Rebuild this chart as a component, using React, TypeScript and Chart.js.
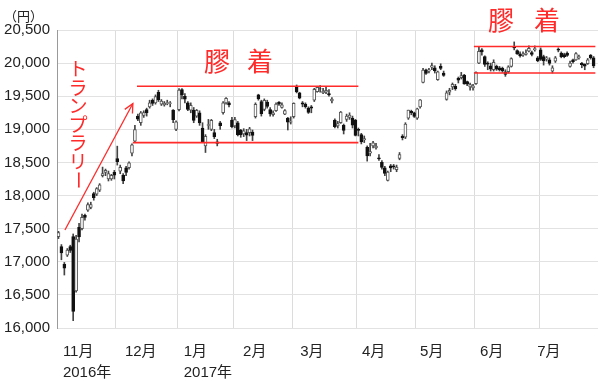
import React, { useEffect, useRef } from "react";
import { Chart, registerables } from "chart.js";

Chart.register(...registerables);

// ---- data ----
const monthLabels = ["11月", "12月", "1月", "2月", "3月", "4月", "5月", "6月", "7月"];
const yearLabels = ["2016年", "", "2017年", "", "", "", "", "", ""];
const monthTradingDays = [20, 21, 19, 20, 22, 20, 20, 22, 19];
const monthLabelPos = [1.5, 22.6, 42.6, 62.8, 82.2, 103.2, 123.0, 143.4, 162.8];
const yTicks = [16000, 16500, 17000, 17500, 18000, 18500, 19000, 19500, 20000, 20500];

const opens = [
  17380, 17230, 16960, 17100, 17230, 17380, 16560, 17520, 17500, 17700, 17780, 17820, 18030, 18020, 18080, 18300, 18350, 18250, 18250, 18350,
  18560, 18370, 18310, 18420, 18420, 18640, 18820, 19200, 19100, 19210, 19300, 19340, 19440, 19400, 19560, 19380, 19370, 19390, 19390, 19290, 19000,
  19298, 19600, 19500, 19400, 19290, 19290, 19200, 19250, 19020, 18750, 19060, 19000, 18950, 18810, 19100, 19250, 19400, 19400, 19140,
  19050, 19100, 18990, 18930, 18950, 18950, 18960, 19190, 19520, 19420, 19300, 19410, 19300, 19220, 19280, 19410, 19330, 19230, 19170, 19110,
  19190, 19640, 19550, 19400, 19380, 19320, 19340, 19440, 19570, 19610, 19550, 19560, 19540, 19430, 19140, 19050, 19100, 19060, 19150, 19180, 19170, 19140,
  19000, 18920, 18840, 18730, 18640, 18750, 18720, 18570, 18500, 18420, 18230, 18450, 18450, 18390, 18560, 18900, 18880, 19170, 19270, 19250,
  19170, 19340, 19710, 19900, 19880, 19940, 19930, 19750, 19950, 19850, 19450, 19560, 19640, 19650, 19770, 19780, 19820, 19720, 19640, 19630,
  19690, 20000, 20200, 20100, 20000, 19960, 19900, 19950, 19930, 19920, 19870, 19870, 19950, 20250, 20190, 20140, 20120, 20130, 20180, 20160, 20200, 20080,
  20200, 20100, 20060, 20050, 19880, 20030, 20210, 20150, 20130, 20150, 19950, 20050, 20050, 20080, 20000, 19980, 19990, 20120, 20080,
];
const highs = [
  17460, 17260, 16990, 17200, 17250, 17420, 17400, 17580, 17720, 17720, 17890, 17900, 18050, 18120, 18180, 18430, 18400, 18370, 18320, 18380,
  18746, 18460, 18330, 18440, 18510, 18780, 19060, 19230, 19270, 19280, 19320, 19440, 19460, 19520, 19590, 19450, 19420, 19440, 19420, 19300, 19130,
  19615, 19615, 19540, 19420, 19400, 19330, 19300, 19280, 19100, 18920, 19150, 19150, 19000, 18850, 19120, 19420, 19480, 19420, 19180,
  19180, 19120, 19000, 19010, 19000, 19030, 18990, 19400, 19530, 19440, 19460, 19440, 19330, 19280, 19400, 19420, 19400, 19300, 19180, 19190,
  19400, 19670, 19560, 19420, 19400, 19340, 19360, 19620, 19650, 19660, 19620, 19640, 19600, 19480, 19160, 19120, 19270, 19080, 19230, 19250, 19200, 19150,
  19020, 18940, 18900, 18750, 18790, 18820, 18790, 18620, 18530, 18440, 18370, 18470, 18470, 18460, 18650, 18920, 19100, 19290, 19290, 19260,
  19320, 19450, 19920, 19910, 19920, 20000, 19960, 19880, 19990, 19880, 19580, 19620, 19700, 19680, 19790, 19860, 19830, 19730, 19700, 19680,
  19870, 20240, 20220, 20110, 20020, 20000, 20050, 19970, 19950, 19940, 19900, 19960, 20080, 20320, 20200, 20170, 20170, 20200, 20260, 20180, 20260, 20100,
  20230, 20120, 20100, 20080, 19960, 20100, 20230, 20170, 20150, 20170, 20030, 20060, 20160, 20120, 20010, 19990, 20070, 20130, 20100,
];
const lows = [
  17350, 17030, 16800, 17080, 17140, 16111, 16540, 17300, 17480, 17630, 17760, 17800, 17930, 18000, 18060, 18280, 18300, 18220, 18230, 18250,
  18460, 18330, 18180, 18300, 18400, 18600, 18800, 19130, 19060, 19180, 19200, 19320, 19360, 19380, 19420, 19360, 19350, 19370, 19340, 19100, 18980,
  19277, 19460, 19400, 19280, 19250, 19100, 19180, 19060, 18800, 18650, 19000, 18980, 18860, 18750, 19000, 19230, 19380, 19340, 19020,
  19020, 18900, 18880, 18890, 18830, 18900, 18830, 19170, 19440, 19200, 19280, 19320, 19200, 19200, 19270, 19360, 19320, 19220, 18990, 19080,
  19170, 19550, 19460, 19340, 19320, 19240, 19250, 19420, 19560, 19560, 19540, 19540, 19500, 19400, 19020, 19020, 19090, 18930, 19120, 19150, 19020, 18900,
  18900, 18780, 18800, 18520, 18600, 18720, 18700, 18530, 18400, 18300, 18220, 18360, 18400, 18360, 18540, 18840, 18860, 19150, 19220, 19180,
  19150, 19320, 19700, 19830, 19850, 19900, 19850, 19740, 19900, 19800, 19440, 19520, 19600, 19590, 19700, 19760, 19680, 19660, 19590, 19590,
  19680, 19990, 20120, 19950, 19900, 19880, 19880, 19890, 19880, 19860, 19800, 19850, 19940, 20200, 20130, 20090, 20100, 20120, 20170, 20110, 20180, 20020,
  20040, 19970, 20030, 19970, 19850, 20010, 20170, 20080, 20080, 20100, 19940, 20000, 20040, 20060, 19930, 19900, 19980, 20060, 19930,
];
const closes = [
  17442, 17134, 16905, 17177, 17171, 16251, 17344, 17374, 17672, 17668, 17862, 17862, 17967, 18106, 18162, 18333, 18381, 18330, 18307, 18308,
  18513, 18426, 18220, 18350, 18496, 18765, 18996, 19155, 19251, 19253, 19250, 19401, 19391, 19494, 19444, 19427, 19396, 19403, 19401, 19145, 19114,
  19594, 19520, 19454, 19301, 19364, 19134, 19287, 19095, 18813, 18894, 19072, 19137, 18891, 18787, 19057, 19402, 19467, 19368, 19041,
  19148, 18914, 18918, 18976, 18910, 19007, 18907, 19378, 19459, 19238, 19437, 19347, 19234, 19251, 19381, 19379, 19371, 19283, 19107, 19118,
  19393, 19564, 19469, 19379, 19344, 19254, 19318, 19604, 19633, 19609, 19577, 19590, 19521, 19455, 19041, 19085, 19262, 18985, 19202, 19217, 19063, 18909,
  18983, 18810, 18861, 18597, 18664, 18797, 18747, 18552, 18426, 18335, 18355, 18418, 18432, 18430, 18620, 18875, 19079, 19289, 19251, 19196,
  19310, 19445, 19895, 19843, 19900, 19961, 19883, 19869, 19919, 19814, 19553, 19590, 19678, 19613, 19742, 19813, 19686, 19682, 19677, 19650,
  19860, 20177, 20170, 19979, 19984, 19909, 20013, 19908, 19898, 19883, 19831, 19943, 20067, 20230, 20138, 20110, 20132, 20153, 20225, 20130, 20220, 20033,
  20055, 20032, 20081, 19994, 19929, 20080, 20195, 20098, 20099, 20118, 20000, 20020, 20144, 20099, 19975, 19955, 20050, 20079, 19959,
];

// annotation levels (price) and spans (trading-day index)
const rallyArrow = { x0: 2.2, y0: 17480, x1: 25.3, y1: 19390 };
const ranges = [
  { top: 19650, bottom: 18800, topStart: 26.7, bottomStart: 25.3, end: 102.0 },
  { top: 20250, bottom: 19850, topStart: 141.3, bottomStart: 141.3, end: 182.6 },
];

const RED = "#ff2a2a";
const JP = "'Noto Sans CJK JP', sans-serif";

const annotationPlugin = {
  id: "annotations",
  afterDatasetsDraw(chart: any) {
    const { ctx } = chart;
    const xs = chart.scales.x;
    const ys = chart.scales.y;
    ctx.save();
    // arrow head
    const tx = xs.getPixelForValue(rallyArrow.x1);
    const ty = ys.getPixelForValue(rallyArrow.y1);
    const fx = xs.getPixelForValue(rallyArrow.x0);
    const fy = ys.getPixelForValue(rallyArrow.y0);
    const ang = Math.atan2(ty - fy, tx - fx);
    const len = 10;
    ctx.strokeStyle = RED;
    ctx.lineWidth = 1.3;
    ctx.beginPath();
    ctx.moveTo(tx - len * Math.cos(ang - 0.45), ty - len * Math.sin(ang - 0.45));
    ctx.lineTo(tx, ty);
    ctx.lineTo(tx - len * Math.cos(ang + 0.45), ty - len * Math.sin(ang + 0.45));
    ctx.stroke();

    ctx.fillStyle = RED;
    ctx.textAlign = "center";
    ctx.textBaseline = "middle";
    // vertical text
    ctx.font = `19px ${JP}`;
    const vt = "トランプラリー".split("");
    vt.forEach((ch, i) => {
      const cy = 69 + i * 18.5;
      if (ch === "ー") {
        ctx.save();
        ctx.translate(78, cy);
        ctx.rotate(Math.PI / 2);
        ctx.fillText(ch, 0, 0);
        ctx.restore();
      } else {
        ctx.fillText(ch, 78, cy);
      }
    });
    // 膠着 labels
    ctx.font = `26px ${JP}`;
    ctx.fillText("膠", 217, 61);
    ctx.fillText("着", 260, 61);
    ctx.fillText("膠", 501, 20);
    ctx.fillText("着", 547, 20);

    // unit
    ctx.fillStyle = "#222";
    ctx.font = `13px ${JP}`;
    ctx.textAlign = "left";
    ctx.fillText("（円）", 4, 16);
    ctx.restore();
  },
};

export default function App() {
  const ref = useRef<HTMLCanvasElement | null>(null);

  useEffect(() => {
    if (!ref.current) return;
    const idx = closes.map((_, i) => i);
    const up = (i: number) => closes[i] >= opens[i];

    const boundaries: number[] = [];
    let acc = 0;
    monthTradingDays.forEach((d) => {
      boundaries.push(acc - 0.5);
      acc += d;
    });

    const lineDs = (pts: { x: number; y: number }[], w: number) => ({
      type: "line" as const,
      data: pts,
      borderColor: RED,
      borderWidth: w,
      pointRadius: 0,
      fill: false,
      order: 0,
      tension: 0,
    });

    const datasets: any[] = [
      {
        type: "bar",
        data: idx.map((i) => ({ x: i, y: [lows[i], highs[i]] })),
        backgroundColor: "#444",
        barThickness: 1,
        grouped: false,
        order: 3,
      },
      {
        type: "bar",
        data: idx.map((i) => ({ x: i, y: [opens[i], closes[i]] })),
        backgroundColor: idx.map((i) => (up(i) ? "#ffffff" : "#111111")),
        borderColor: idx.map((i) => (up(i) ? "#555555" : "#111111")),
        borderWidth: 1,
        borderSkipped: false,
        barThickness: 3,
        grouped: false,
        order: 2,
      },
    ];
    ranges.forEach((r) => {
      datasets.push(lineDs([{ x: r.topStart, y: r.top }, { x: r.end, y: r.top }], 1.6));
      datasets.push(lineDs([{ x: r.bottomStart, y: r.bottom }, { x: r.end, y: r.bottom }], 1.6));
    });
    datasets.push(
      lineDs(
        [
          { x: rallyArrow.x0, y: rallyArrow.y0 },
          { x: rallyArrow.x1, y: rallyArrow.y1 },
        ],
        1.3
      )
    );

    Chart.defaults.font.family = "'Liberation Sans', 'Noto Sans CJK JP', sans-serif";
    Chart.defaults.color = "#222";

    const chart = new Chart(ref.current, {
      type: "bar",
      data: { datasets },
      plugins: [annotationPlugin],
      options: {
        animation: false,
        responsive: false,
        devicePixelRatio: 1,
        layout: { padding: { top: 30, right: 2, left: 0, bottom: 0 } },
        plugins: { legend: { display: false }, tooltip: { enabled: false } },
        scales: {
          x: {
            type: "linear",
            position: "bottom",
            min: -0.5,
            max: 183.5,
            offset: false,
            grid: { color: "#dcdcdc", drawTicks: false, lineWidth: 1, offset: false },
            border: { display: false },
            ticks: { display: false },
            afterBuildTicks: (scale: any) => {
              scale.ticks = boundaries.map((v) => ({ value: v }));
            },
            afterFit: (scale: any) => {
              scale.height = 0;
            },
          },
          x2: {
            type: "linear",
            position: "bottom",
            min: -0.5,
            max: 183.5,
            offset: false,
            grid: { display: false, drawTicks: false, offset: false },
            border: { display: false },
            ticks: {
              align: "start",
              autoSkip: false,
              maxRotation: 0,
              minRotation: 0,
              padding: 14,
              font: { size: 15, lineHeight: 1.35 },
              color: "#222",
              callback: (_v: any, i: number) =>
                yearLabels[i] ? [monthLabels[i], yearLabels[i]] : monthLabels[i],
            },
            afterBuildTicks: (scale: any) => {
              scale.ticks = monthLabelPos.map((v) => ({ value: v }));
            },
            afterFit: (scale: any) => {
              scale.height = 53;
            },
          },
          y: {
            type: "linear",
            min: 16000,
            max: 20500,
            grid: { color: "#e2e2e2", drawTicks: false },
            border: { display: true, color: "#9a9a9a", width: 1 },
            ticks: {
              padding: 7,
              font: { size: 15 },
              color: "#222",
              callback: (v: any) => Number(v).toLocaleString("en-US"),
            },
            afterBuildTicks: (scale: any) => {
              scale.ticks = yTicks.map((v) => ({ value: v }));
            },
            afterFit: (scale: any) => {
              scale.width = 57;
            },
          },
        },
      } as any,
    });
    return () => chart.destroy();
  }, []);

  return (
    <div style={{ position: "absolute", left: 0, top: 0, width: 600, height: 381, background: "#fff" }}>
      <canvas ref={ref} width={600} height={381} style={{ display: "block" }} />
    </div>
  );
}
